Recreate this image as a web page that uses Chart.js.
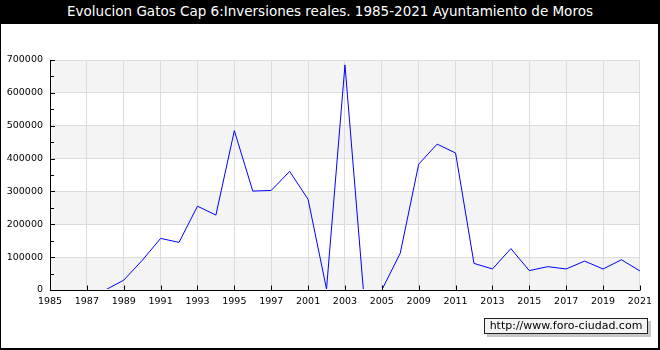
<!DOCTYPE html>
<html>
<head>
<meta charset="utf-8">
<script src="https://cdn.jsdelivr.net/npm/chart.js@4"></script>
<style>
  body { margin: 0; background: #fff; }
  #frame { position: relative; width: 660px; height: 350px; background: #000; overflow: hidden; }
  #title { position: absolute; left: 0; top: 3px; width: 660px; height: 20px; line-height: 20px;
           color: #fff; text-align: center; font: 13.5px "DejaVu Sans", sans-serif; }
  #inner { position: absolute; left: 1px; top: 24px; width: 657px; height: 324px; background: #fff; }
  #mark { position: absolute; left: 484px; top: 318px; width: 162px; height: 14px; line-height: 14px;
          background: #f4f4f4; border: 1px solid #222; box-shadow: 3px 3px 0 #c8c8c8;
          font: 11px "DejaVu Sans", sans-serif; color: #000; text-align: center; }
</style>
</head>
<body>
<div id="frame">
  <div id="title">Evolucion Gatos Cap 6:Inversiones reales. 1985-2021 Ayuntamiento de Moros</div>
  <div id="inner"><canvas id="chart" width="657" height="324"></canvas></div>
  <div id="mark">http://www.foro-ciudad.com</div>
</div>
<script>
const years = ["1985", "1986", "1987", "1988", "1989", "1990", "1991", "1992", "1993", "1994",
  "1995", "1996", "1997", "2000", "2001", "2002", "2003", "2004", "2005", "2008",
  "2009", "2010", "2011", "2012", "2013", "2014", "2015", "2016", "2017", "2018",
  "2019", "2020", "2021"];

const inversiones = [null, null, null, 0, 30000, 90000, 157000, 145000, 255000, 228000,
  485000, 301000, 303000, 361000, 276000, 3000, 685000, 0, 0, 112000,
  383000, 444000, 417000, 81000, 64000, 126000, 59000, 71000, 64000, 88000,
  64000, 92000, 58000];

const bandColor = "#f4f4f4";
const gridColor = "#dcdcdc";

// alternating horizontal bands behind the grid
const bands = {
  id: "bands",
  beforeDraw(chart) {
    const { ctx, chartArea, scales } = chart;
    const y = scales.y;
    ctx.save();
    ctx.fillStyle = bandColor;
    for (let v = 0; v < 700000; v += 200000) {
      const top = y.getPixelForValue(v + 100000);
      const bottom = y.getPixelForValue(v);
      ctx.fillRect(chartArea.left, top, chartArea.right - chartArea.left, bottom - top);
    }
    ctx.restore();
  }
};

// axis line over the data, tick marks pointing into the plot
const innerTicks = {
  id: "innerTicks",
  afterDatasetsDraw(chart) {
    const { ctx, chartArea, scales } = chart;
    const bottom = Math.round(scales.y.getPixelForValue(0));
    ctx.save();
    // hide the zero-value segments that lie on the axis, as in the original
    ctx.fillStyle = bandColor;
    ctx.fillRect(chartArea.left + 1, bottom - 1, chartArea.right - chartArea.left - 1, 1);
    ctx.strokeStyle = "#000";
    ctx.lineWidth = 1;
    ctx.beginPath();
    ctx.moveTo(chartArea.left, bottom + 0.5);
    ctx.lineTo(chartArea.right, bottom + 0.5);
    scales.x.ticks.forEach((t, i) => {
      if (i % 2 !== 0) return;
      const px = Math.round(scales.x.getPixelForTick(i)) + 0.5;
      ctx.moveTo(px, bottom + 0.5);
      ctx.lineTo(px, bottom - 4.5);
    });
    scales.y.ticks.forEach((t, i) => {
      const py = Math.round(scales.y.getPixelForTick(i)) + 0.5;
      const len = t.value % 100000 === 0 ? 5 : 4;
      ctx.moveTo(chartArea.left, py);
      ctx.lineTo(chartArea.left + len, py);
    });
    ctx.stroke();
    ctx.restore();
  }
};

new Chart(document.getElementById("chart"), {
  type: "line",
  data: {
    labels: years,
    datasets: [{
      data: inversiones,
      borderColor: "#0000ff",
      borderWidth: 1,
      pointRadius: 0,
      tension: 0,
      fill: false
    }]
  },
  options: {
    responsive: false,
    animation: false,
    layout: { padding: { left: 0, right: 18, top: 36, bottom: 0 } },
    plugins: {
      legend: { display: false },
      tooltip: { enabled: false }
    },
    scales: {
      x: {
        afterFit: s => { s.height = 58; },
        border: { color: "#000", width: 1 },
        grid: {
          drawTicks: false,
          color: c => c.index % 2 === 0 ? gridColor : "rgba(0,0,0,0)"
        },
        ticks: {
          autoSkip: false,
          maxRotation: 0,
          padding: 6,
          color: "#000",
          font: { family: "DejaVu Sans", size: 9.5 },
          callback: (v, i) => i % 2 === 0 ? years[i] : ""
        }
      },
      y: {
        min: 0,
        max: 700000,
        afterFit: s => { s.width = 49; },
        border: { color: "#000", width: 1 },
        grid: {
          drawTicks: false,
          color: c => c.tick && c.tick.value % 100000 === 0 ? gridColor : "rgba(0,0,0,0)"
        },
        ticks: {
          stepSize: 50000,
          padding: 7,
          color: "#000",
          font: { family: "DejaVu Sans", size: 9.5 },
          callback: v => v % 100000 === 0 ? String(v) : ""
        }
      }
    }
  },
  plugins: [bands, innerTicks]
});
</script>
</body>
</html>
